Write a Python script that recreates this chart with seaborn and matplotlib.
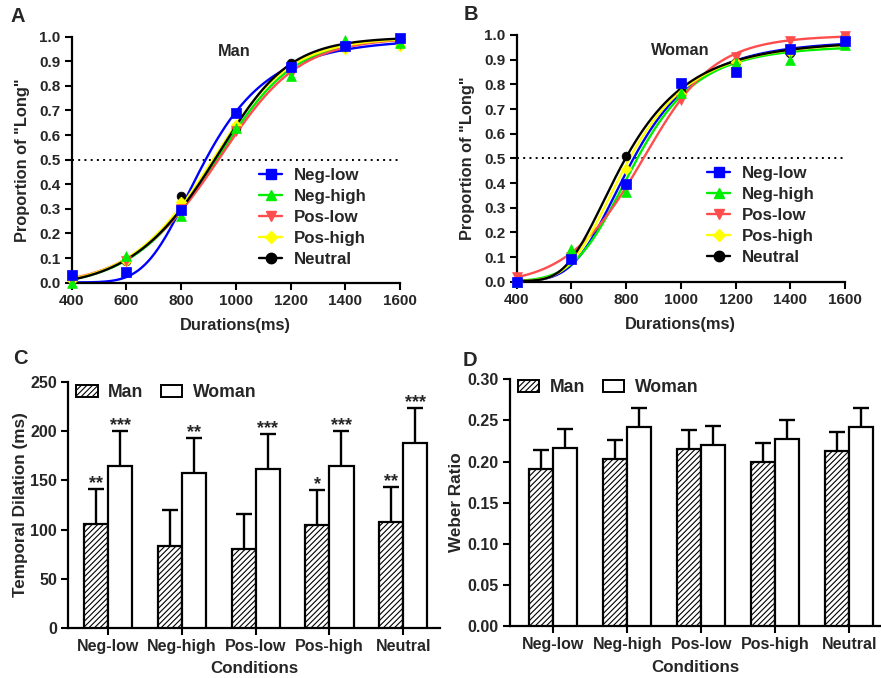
import numpy as np
import pandas as pd
import matplotlib
matplotlib.use("Agg")
import matplotlib.pyplot as plt
from matplotlib.lines import Line2D
from matplotlib.patches import Patch
import seaborn as sns

# ---------------- data ----------------
durations = [400, 600, 800, 1000, 1200, 1400, 1600]
conditions = ["Neg-low", "Neg-high", "Pos-low", "Pos-high", "Neutral"]

# Panel A (Man): mean proportion of "long" responses
man_neg_low = [0.03, 0.045, 0.295, 0.688, 0.875, 0.963, 0.993]
man_neg_high = [0.0, 0.108, 0.271, 0.627, 0.84, 0.988, 0.973]
man_pos_low = [0.01, 0.09, 0.30, 0.615, 0.85, 0.96, 0.97]
man_pos_high = [0.01, 0.09, 0.329, 0.64, 0.87, 0.95, 0.962]
man_neutral = [0.01, 0.09, 0.354, 0.63, 0.894, 0.96, 0.99]

# Panel B (Woman)
woman_neg_low = [0.0, 0.093, 0.397, 0.807, 0.851, 0.942, 0.976]
woman_neg_high = [0.0, 0.131, 0.364, 0.764, 0.888, 0.897, 0.96]
woman_pos_low = [0.02, 0.10, 0.38, 0.736, 0.912, 0.977, 0.995]
woman_pos_high = [0.0, 0.10, 0.455, 0.76, 0.89, 0.93, 0.993]
woman_neutral = [0.0, 0.10, 0.51, 0.77, 0.89, 0.926, 0.99]

# fitted psychometric curves (5-parameter logistic on log duration)
# order: Neg-low, Neg-high, Pos-low, Pos-high, Neutral
man_fit_mid = [734.6, 1076.9, 1093.1, 1057.7, 1079.2]
man_fit_hill = [6.116, 9.061, 8.928, 8.861, 9.948]
man_fit_asym = [2.548, 0.439, 0.430, 0.452, 0.391]
man_fit_top = [0.9948, 1.0, 1.0, 1.0, 1.0]
man_fit_bottom = [0.0010, -0.0062, -0.0029, -0.0048, -0.0089]

woman_fit_mid = [675.7, 784.3, 981.5, 622.2, 534.9]
woman_fit_hill = [5.744, 6.664, 8.745, 5.406, 5.024]
woman_fit_asym = [2.485, 1.335, 0.491, 3.170, 5.379]
woman_fit_top = [0.9806, 0.9575, 1.0, 0.9765, 0.9813]
woman_fit_bottom = [0.0027, 0.0012, -0.0028, 0.0027, 0.0029]

# Panel C: temporal dilation (ms), mean and SEM
dilation_man = [105.7, 83.8, 80.4, 104.7, 107.8]
dilation_man_err = [35.2, 35.8, 35.8, 35.5, 35.8]
dilation_woman = [164.5, 157.1, 161.1, 164.9, 187.5]
dilation_woman_err = [35.8, 35.8, 35.5, 35.4, 35.5]
stars_man = ["**", "", "", "*", "**"]
stars_woman = ["***", "**", "***", "***", "***"]

# Panel D: Weber ratio
weber_man = [0.1905, 0.2027, 0.2157, 0.1995, 0.2128]
weber_man_err = [0.0235, 0.0233, 0.0231, 0.0235, 0.0232]
weber_woman = [0.2165, 0.2424, 0.2205, 0.2274, 0.2424]
weber_woman_err = [0.0231, 0.0226, 0.0231, 0.0231, 0.0226]

# ---------------- style ----------------
sns.set_style("ticks")
plt.rcParams["font.family"] = ["Liberation Sans", "DejaVu Sans"]
plt.rcParams["font.weight"] = "bold"
plt.rcParams["axes.labelweight"] = "bold"
plt.rcParams["hatch.linewidth"] = 0.8
plt.rcParams["hatch.color"] = "#222222"

colors = ["#0000FF", "#00EE00", "#FF4D4D", "#FFFF00", "#000000"]
markers = ["s", "^", "v", "D", "o"]
msizes = [46, 50, 50, 30, 40]

fig = plt.figure(figsize=(8.81, 6.78), dpi=100)
W, H = 881.0, 678.0


def add_ax(l, r, b, t):
    return fig.add_axes([l / W, 1 - b / H, (r - l) / W, (b - t) / H])


def style_ax(ax, tick_fs, pad):
    sns.despine(ax=ax)
    for s in ["left", "bottom"]:
        ax.spines[s].set_linewidth(1.6)
        ax.spines[s].set_color("black")
    ax.tick_params(axis="both", direction="out", length=5, width=1.5,
                   color="black", labelsize=tick_fs, pad=pad)
    for lab in ax.get_xticklabels() + ax.get_yticklabels():
        lab.set_fontweight("bold")


def psych(x, mid, hill, asym, top, bottom):
    x = np.asarray(x, float)
    return bottom + (top - bottom) / (1 + (mid / x) ** hill) ** asym


def curve_panel(ax, series, mids, hills, asyms, tops, bottoms, title, title_x,
                leg_xy, ylab_pad):
    xx = np.linspace(400, 1600, 400)
    order = [4, 3, 2, 1, 0]
    for i in order:
        yy = psych(xx, mids[i], hills[i], asyms[i], tops[i], bottoms[i])
        sns.lineplot(x=xx, y=yy, color=colors[i], linewidth=1.7, ax=ax,
                     zorder=2 + i * 0.01, legend=False)
    for i in order:
        sns.scatterplot(x=durations, y=series[i], marker=markers[i], s=msizes[i],
                        color=colors[i], edgecolor=colors[i], linewidth=0.5,
                        ax=ax, zorder=5 + (4 - i) * 0.1, clip_on=False, legend=False)
    ax.axhline(0.5, color="black", linestyle=(0, (1, 2.2)), linewidth=1.4, zorder=1)
    ax.set_xlim(400, 1600)
    ax.set_ylim(0, 1.0)
    ax.set_xticks(durations)
    ax.set_yticks(np.round(np.arange(0, 1.01, 0.1), 1))
    ax.set_yticklabels([f"{v:.1f}" for v in np.arange(0, 1.01, 0.1)])
    ax.set_xlabel("Durations(ms)", fontsize=11.8, fontweight="bold", labelpad=7)
    ax.set_ylabel('Proportion of "Long"', fontsize=11.8, fontweight="bold", labelpad=ylab_pad)
    ax.text(title_x, 0.939, title, ha="center", va="center", fontsize=11.7, fontweight="bold")
    style_ax(ax, 11, 3)
    handles = [Line2D([0], [0], color=colors[i], marker=markers[i], linewidth=1.7,
                      markersize=7.5 if markers[i] != "D" else 6,
                      markeredgecolor=colors[i]) for i in range(5)]
    ax.legend(handles, conditions, loc="upper left", bbox_to_anchor=leg_xy,
              frameon=False, handlelength=1.35, handletextpad=0.7,
              labelspacing=0.35, borderpad=0, borderaxespad=0,
              prop={"weight": "bold", "size": 12.2})


axA = add_ax(71.7, 400, 282.7, 36.7)
curve_panel(axA, [man_neg_low, man_neg_high, man_pos_low, man_pos_high, man_neutral],
            man_fit_mid, man_fit_hill, man_fit_asym, man_fit_top, man_fit_bottom,
            "Man", 993, (0.572, 0.465), 6.5)

axB = add_ax(516.7, 845, 281.7, 35)
curve_panel(axB, [woman_neg_low, woman_neg_high, woman_pos_low, woman_pos_high, woman_neutral],
            woman_fit_mid, woman_fit_hill, woman_fit_asym, woman_fit_top, woman_fit_bottom,
            "Woman", 997, (0.58, 0.468), 7)


def bar_panel(ax, man, man_err, woman, woman_err, ylim, yticks, yfmt, ylabel,
              xlim, ylab_pad, xlab_pad, leg_y, stars=None, star_off=0.0):
    df = pd.DataFrame({
        "Condition": conditions * 2,
        "Gender": ["Man"] * 5 + ["Woman"] * 5,
        "Value": man + woman,
    })
    sns.barplot(data=df, x="Condition", y="Value", hue="Gender",
                order=conditions, hue_order=["Man", "Woman"],
                palette={"Man": "white", "Woman": "white"}, saturation=1,
                edgecolor="black", linewidth=1.6, width=0.652, errorbar=None,
                legend=False, ax=ax, zorder=3)
    errs = [man_err, woman_err]
    bar_conts = list(ax.containers)[:2]
    for k, cont in enumerate(bar_conts):
        for j, bar in enumerate(cont.patches):
            if k == 0:
                bar.set_hatch("//////")
            xc = bar.get_x() + bar.get_width() / 2
            top = bar.get_height()
            ax.errorbar(xc, top, yerr=errs[k][j], fmt="none", ecolor="black",
                        elinewidth=1.7, capsize=5.5, capthick=1.7, zorder=2)
            if stars is not None and stars[k][j]:
                ax.text(xc, top + errs[k][j] + star_off, stars[k][j], ha="center",
                        va="bottom", fontsize=13, fontweight="bold")
    ax.set_xlim(*xlim)
    ax.set_ylim(*ylim)
    ax.set_yticks(yticks)
    ax.set_yticklabels([yfmt.format(v) for v in yticks])
    ax.set_xlabel("Conditions", fontsize=12.2, fontweight="bold", labelpad=xlab_pad)
    ax.set_ylabel(ylabel, fontsize=12.3, fontweight="bold", labelpad=ylab_pad)
    style_ax(ax, 11.5, 3)
    handles = [Patch(facecolor="white", edgecolor="black", hatch="//////", linewidth=1.4),
               Patch(facecolor="white", edgecolor="black", linewidth=1.4)]
    ax.legend(handles, ["Man", "Woman"], loc="upper left", bbox_to_anchor=(0.022, leg_y),
              ncol=2, frameon=False, handlelength=1.2, handleheight=0.65,
              handletextpad=0.6, columnspacing=1.0, borderpad=0, borderaxespad=0,
              prop={"weight": "bold", "size": 12.7})


axC = add_ax(68.3, 440, 628.3, 381.7)
bar_panel(axC, dilation_man, dilation_man_err, dilation_woman, dilation_woman_err,
          (0, 250), [0, 50, 100, 150, 200, 250], "{:.0f}", "Temporal Dilation (ms)",
          (-0.545, 4.5), 1.5, 5, 0.99, stars=[stars_man, stars_woman], star_off=-3)

axD = add_ax(510, 881, 626, 379.3)
bar_panel(axD, weber_man, weber_man_err, weber_woman, weber_woman_err,
          (0, 0.30), [0, 0.05, 0.10, 0.15, 0.20, 0.25, 0.30], "{:.2f}", "Weber Ratio",
          (-0.585, 4.43), 2.5, 6, 1.0)

for lab, (px, py) in {"A": (18, 16), "B": (471, 15), "C": (20, 358), "D": (470, 360)}.items():
    fig.text(px / W, 1 - py / H, lab, ha="center", va="center", fontsize=14.5, fontweight="bold")

fig.savefig("out.png", dpi=100)
